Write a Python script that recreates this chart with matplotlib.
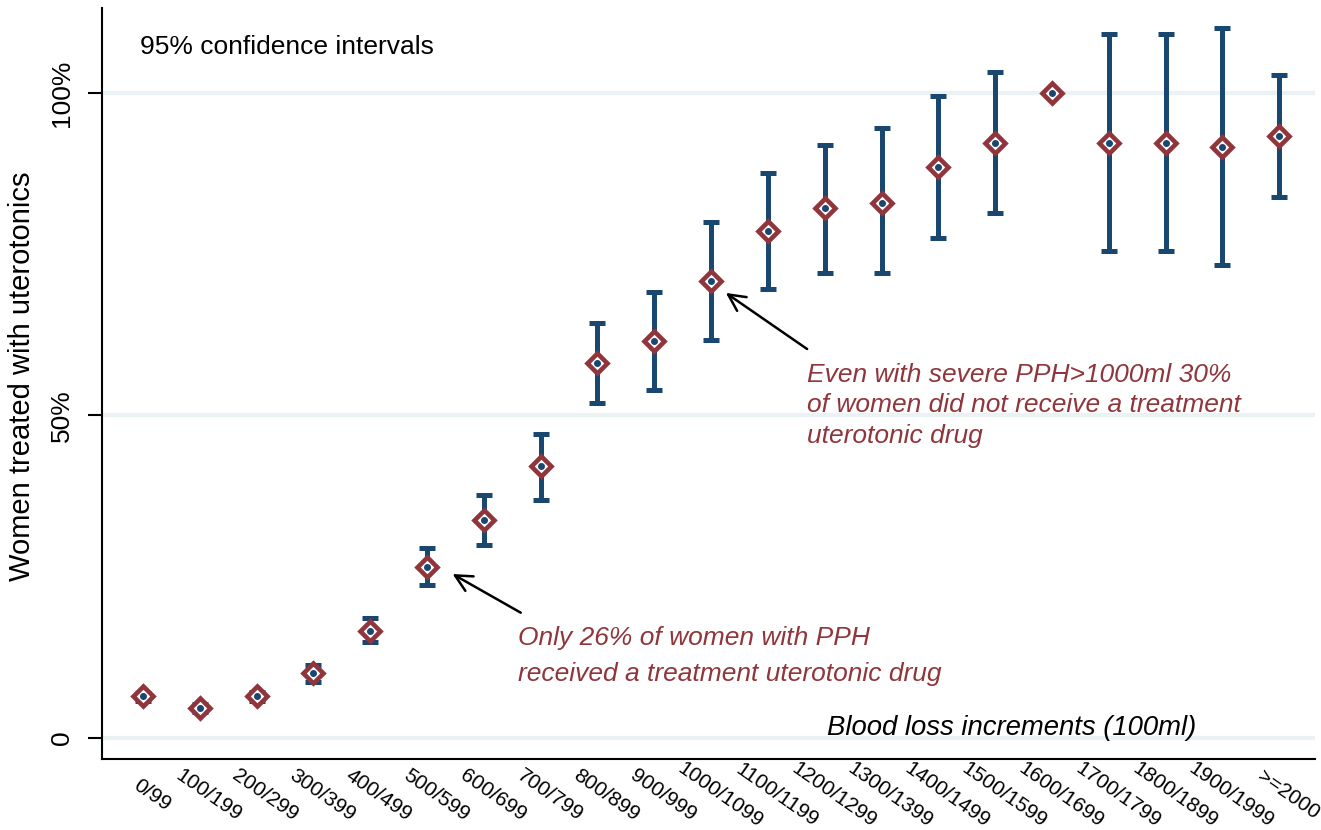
#!/usr/bin/env python3
from __future__ import annotations

import matplotlib
matplotlib.use("Agg")

import matplotlib.pyplot as plt
import matplotlib.transforms as mtransforms
import numpy as np


CATEGORIES = [
    "0/99", "100/199", "200/299", "300/399", "400/499", "500/599",
    "600/699", "700/799", "800/899", "900/999", "1000/1099", "1100/1199",
    "1200/1299", "1300/1399", "1400/1499", "1500/1599", "1600/1699",
    "1700/1799", "1800/1899", "1900/1999", ">=2000",
]

# percent of women treated, with 95% CI bounds
PCT = [6.4, 4.6, 6.5, 10.0, 16.6, 26.5, 33.8, 42.2, 58.2, 61.5, 70.9,
       78.6, 82.2, 82.9, 88.5, 92.3, 100.0, 92.3, 92.3, 91.7, 93.4]
CI_LOW = [5.7, 4.0, 5.7, 8.6, 14.8, 23.7, 29.9, 36.9, 52.0, 53.9, 61.7,
          69.6, 72.1, 72.1, 77.5, 81.4, 100.0, 75.5, 75.5, 73.3, 83.9]
CI_HIGH = [7.0, 5.3, 7.1, 11.3, 18.5, 29.5, 37.7, 47.1, 64.4, 69.1, 80.0,
           87.6, 91.9, 94.6, 99.5, 103.3, 100.0, 109.1, 109.1, 110.1, 102.8]

Y_TICKS = [0, 50, 100]
Y_TICK_LABELS = ["0", "50%", "100%"]

NAVY = "#1a476f"
MAROON = "#90353b"
GRID = "#eaf2f3"

plt.rcParams["font.family"] = ["Liberation Sans", "DejaVu Sans"]


def main() -> None:
    fig = plt.figure(figsize=(13.21, 8.30), dpi=100)
    ax = fig.add_axes([0.0772, 0.0855, 0.9183, 0.9049])

    x = np.arange(len(CATEGORIES))
    pct = np.array(PCT)
    lo = pct - np.array(CI_LOW)
    hi = np.array(CI_HIGH) - pct

    for yv in Y_TICKS:
        ax.axhline(yv, color=GRID, lw=3, zorder=0)

    ax.errorbar(x, pct, yerr=[lo, hi], fmt="none", ecolor=NAVY,
                elinewidth=3.6, capsize=5.5, capthick=3.6, zorder=2)
    ax.plot(x, pct, "D", ms=10.5, mfc="white", mec=MAROON, mew=3.3, zorder=3)
    ax.plot(x, pct, "o", ms=4, color=NAVY, zorder=4)

    ax.set_xlim(-0.72, 20.63)
    ax.set_ylim(-3.3, 113.2)

    ax.set_yticks(Y_TICKS)
    ax.set_yticklabels(Y_TICK_LABELS, rotation=90, va="center", fontsize=19)
    ax.tick_params(axis="y", length=10, width=1.5, pad=10)

    ax.set_xticks(x)
    ax.set_xticklabels(CATEGORIES, rotation=-35, ha="center", va="center",
                       rotation_mode="anchor", fontsize=15)
    ax.tick_params(axis="x", length=0, pad=26)
    shift = mtransforms.ScaledTranslation(9 / 100, 0, fig.dpi_scale_trans)
    for lab in ax.get_xticklabels():
        lab.set_transform(lab.get_transform() + shift)

    for side in ["top", "right"]:
        ax.spines[side].set_visible(False)
    for side in ["left", "bottom"]:
        ax.spines[side].set_linewidth(1.5)

    ax.text(0.0313, 0.948, "95% confidence intervals", transform=ax.transAxes,
            fontsize=19, va="center", ha="left")
    ax.text(0.750, 0.0413, "Blood loss increments (100ml)", transform=ax.transAxes,
            fontsize=19.8, style="italic", va="center", ha="center")
    fig.text(22 / 1321, 1 - 376 / 830, "Women treated with uterotonics",
             rotation=90, fontsize=21, va="center", ha="center")

    arrow = dict(arrowstyle="->", color="black", lw=1.8, mutation_scale=30,
                 shrinkA=0, shrinkB=0)
    ax.annotate("", xy=(5.45, 25.4), xytext=(6.65, 19.4), arrowprops=arrow)
    ax.annotate("", xy=(10.26, 69.0), xytext=(11.69, 60.3), arrowprops=arrow)

    ax.text(6.61, 17.4, "Only 26% of women with PPH\nreceived a treatment uterotonic drug",
            color=MAROON, style="italic", fontsize=19, va="top", ha="left",
            linespacing=1.65)
    ax.text(11.69, 58.2, "Even with severe PPH>1000ml 30%\nof women did not receive a treatment\nuterotonic drug",
            color=MAROON, style="italic", fontsize=19, va="top", ha="left",
            linespacing=1.35)

    fig.savefig("out.png", dpi=100)
    plt.close(fig)


if __name__ == "__main__":
    main()
